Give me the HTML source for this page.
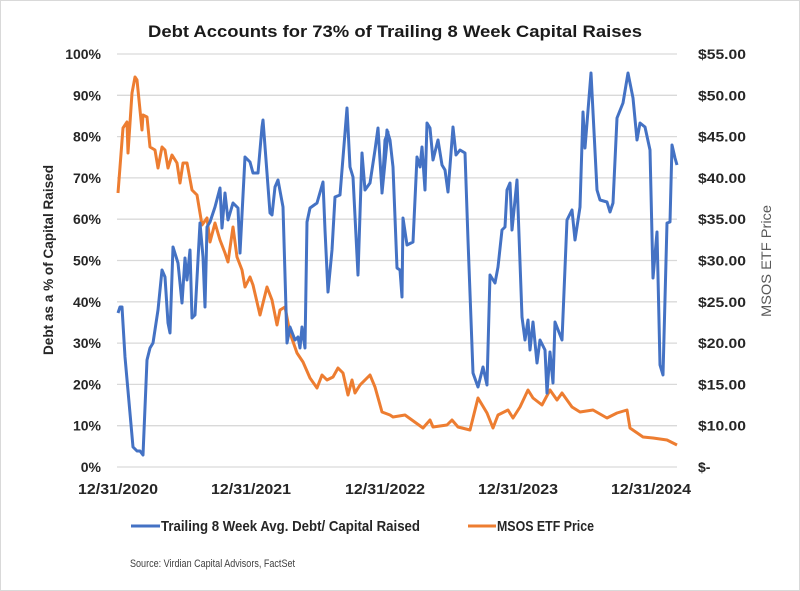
<!DOCTYPE html>
<html><head><meta charset="utf-8"><style>
html,body{margin:0;padding:0;background:#fff;}
svg{display:block;}
text{font-family:"Liberation Sans",sans-serif;}
</style></head><body>
<svg width="800" height="591" viewBox="0 0 800 591" xmlns="http://www.w3.org/2000/svg">
<rect x="0.5" y="0.5" width="799" height="590" fill="#fff" stroke="#d9d9d9"/>
<text x="148" y="37" font-size="17" font-weight="bold" fill="#1a1a1a" textLength="494" lengthAdjust="spacingAndGlyphs">Debt Accounts for 73% of Trailing 8 Week Capital Raises</text>
<g stroke="#d9d9d9" stroke-width="1.3">
<line x1="117" x2="677" y1="54" y2="54"/><line x1="117" x2="677" y1="95.3" y2="95.3"/><line x1="117" x2="677" y1="136.6" y2="136.6"/><line x1="117" x2="677" y1="177.9" y2="177.9"/><line x1="117" x2="677" y1="219.2" y2="219.2"/><line x1="117" x2="677" y1="260.5" y2="260.5"/><line x1="117" x2="677" y1="301.8" y2="301.8"/><line x1="117" x2="677" y1="343.1" y2="343.1"/><line x1="117" x2="677" y1="384.4" y2="384.4"/><line x1="117" x2="677" y1="425.7" y2="425.7"/><line x1="117" x2="677" y1="467" y2="467"/>
</g>
<g font-size="14" font-weight="bold" fill="#262626" text-anchor="end">
<text x="101" y="59">100%</text><text x="101" y="100.3">90%</text><text x="101" y="141.6">80%</text><text x="101" y="182.9">70%</text><text x="101" y="224.2">60%</text><text x="101" y="265.5">50%</text><text x="101" y="306.8">40%</text><text x="101" y="348.1">30%</text><text x="101" y="389.4">20%</text><text x="101" y="430.7">10%</text><text x="101" y="472">0%</text>
</g>
<g font-size="14" font-weight="bold" fill="#262626">
<text x="698" y="59" textLength="48" lengthAdjust="spacingAndGlyphs">$55.00</text><text x="698" y="100.3" textLength="48" lengthAdjust="spacingAndGlyphs">$50.00</text><text x="698" y="141.6" textLength="48" lengthAdjust="spacingAndGlyphs">$45.00</text><text x="698" y="182.9" textLength="48" lengthAdjust="spacingAndGlyphs">$40.00</text><text x="698" y="224.2" textLength="48" lengthAdjust="spacingAndGlyphs">$35.00</text><text x="698" y="265.5" textLength="48" lengthAdjust="spacingAndGlyphs">$30.00</text><text x="698" y="306.8" textLength="48" lengthAdjust="spacingAndGlyphs">$25.00</text><text x="698" y="348.1" textLength="48" lengthAdjust="spacingAndGlyphs">$20.00</text><text x="698" y="389.4" textLength="48" lengthAdjust="spacingAndGlyphs">$15.00</text><text x="698" y="430.7" textLength="48" lengthAdjust="spacingAndGlyphs">$10.00</text><text x="698" y="472">$-</text>
</g>
<g font-size="15" font-weight="bold" fill="#262626" text-anchor="middle">
<text x="118" y="494" textLength="80" lengthAdjust="spacingAndGlyphs">12/31/2020</text>
<text x="251" y="494" textLength="80" lengthAdjust="spacingAndGlyphs">12/31/2021</text>
<text x="385" y="494" textLength="80" lengthAdjust="spacingAndGlyphs">12/31/2022</text>
<text x="518" y="494" textLength="80" lengthAdjust="spacingAndGlyphs">12/31/2023</text>
<text x="651" y="494" textLength="80" lengthAdjust="spacingAndGlyphs">12/31/2024</text>
</g>
<text transform="translate(53,260) rotate(-90)" font-size="14" font-weight="bold" fill="#262626" text-anchor="middle" textLength="190" lengthAdjust="spacingAndGlyphs">Debt as a % of Capital Raised</text>
<text transform="translate(771,261) rotate(-90)" font-size="14" fill="#595959" text-anchor="middle" textLength="112" lengthAdjust="spacingAndGlyphs">MSOS ETF Price</text>
<polyline fill="none" stroke="#ed7d31" stroke-width="3" stroke-linejoin="round" points="118,193 123,128 127,122 128,153 132,93 135,77 137,80 142,130 143,115 147,117 150,147 155,150 158,168 162,147 165,150 168,168 172,155 177,163 180,183 183,163 187,163 192,190 197,195 202,225 207,218 210,242 215,223 220,240 225,253 228,262 233,227 237,257 242,270 245,287 250,277 253,285 260,315 267,287 272,300 277,325 280,310 285,307 290,333 297,353 303,362 310,378 317,388 322,375 327,380 333,377 338,368 343,373 348,395 352,380 355,393 360,385 370,375 375,387 382,412 390,415 393,417 405,415 423,428 430,420 433,427 447,425 452,420 458,427 470,430 478,398 487,413 493,428 498,415 508,410 513,418 520,407 528,390 533,398 542,405 550,390 557,400 562,393 572,407 580,412 593,410 607,418 617,413 627,410 630,428 643,437 653,438 667,440 677,445"/>
<polyline fill="none" stroke="#4472c4" stroke-width="3" stroke-linejoin="round" points="118,313 120,307 122,307 125,357 133,447 137,451 140,451 143,455 147,360 150,348 153,343 158,310 162,270 165,277 168,323 170,333 173,247 178,263 182,303 185,258 187,280 190,250 192,318 195,315 200,223 203,257 205,307 207,227 210,222 215,207 220,188 222,228 225,193 228,220 233,203 238,208 240,253 245,157 250,162 253,173 258,173 262,127 263,120 267,173 270,213 272,215 275,187 278,180 283,207 287,343 290,327 295,340 298,337 300,348 302,327 305,348 307,222 310,208 317,203 323,182 325,230 328,292 332,250 335,197 340,195 347,108 350,167 353,177 358,275 362,153 365,190 370,183 375,150 378,128 382,192 385,140 388,132 382,193 387,130 390,140 393,167 397,268 400,270 402,297 403,218 407,245 413,242 417,157 420,167 422,147 425,190 427,123 430,128 433,160 438,140 442,165 445,170 448,192 453,127 456,155 460,150 465,153 468,240 473,373 478,387 483,367 487,385 490,275 495,283 498,267 502,230 505,227 507,190 510,183 512,230 517,180 522,317 525,340 528,320 530,350 533,322 537,363 540,340 545,350 547,393 550,352 553,383 555,322 562,340 567,220 572,210 575,240 580,207 583,112 585,148 591,73 597,190 600,200 607,202 610,212 613,203 617,118 623,103 628,73 633,98 637,140 640,123 645,127 650,150 653,278 657,232 660,365 663,375 667,223 670,222 672,145 675,158 677,165"/>
<line x1="131" x2="160" y1="526" y2="526" stroke="#4472c4" stroke-width="3"/>
<text x="161" y="531" font-size="15" font-weight="bold" fill="#262626" textLength="259" lengthAdjust="spacingAndGlyphs">Trailing 8 Week Avg. Debt/ Capital Raised</text>
<line x1="468" x2="496" y1="526" y2="526" stroke="#ed7d31" stroke-width="3"/>
<text x="497" y="531" font-size="15" font-weight="bold" fill="#262626" textLength="97" lengthAdjust="spacingAndGlyphs">MSOS ETF Price</text>
<text x="130" y="567" font-size="11" fill="#404040" textLength="165" lengthAdjust="spacingAndGlyphs">Source: Virdian Capital Advisors, FactSet</text>
</svg>
</body></html>
